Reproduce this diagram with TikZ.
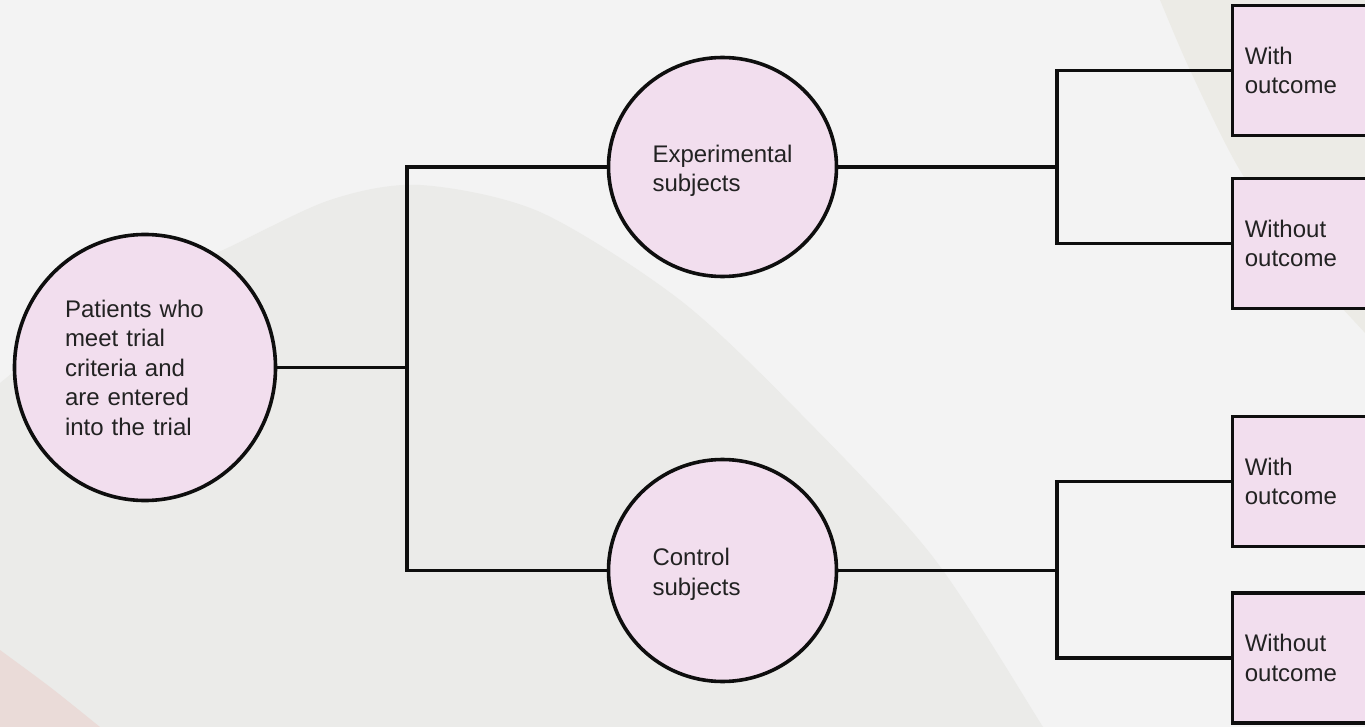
\documentclass[tikz,border=0pt]{standalone}
\usepackage{fontspec}
\setmainfont{Liberation Sans}
\usetikzlibrary{shapes.geometric}
\definecolor{bgbase}{HTML}{F3F3F3}
\definecolor{bgblob}{HTML}{EBEBE9}
\definecolor{bgbeige}{HTML}{ECEBE6}
\definecolor{bgpink}{HTML}{EADBD8}
\definecolor{nodefill}{HTML}{F2DEEE}
\definecolor{ink}{HTML}{0E0E0E}
\definecolor{textink}{HTML}{222222}
\begin{document}
\begin{tikzpicture}[x=1pt,y=-1pt,
  txt/.style={font=\fontsize{24}{29.5}\selectfont, text=textink},
  bubble/.style={ellipse, draw=ink, line width=3.6pt, fill=nodefill, inner sep=0pt, align=left, txt},
  outbox/.style={rectangle, draw=ink, line width=3.6pt, fill=nodefill, minimum height=130pt, text width=130pt, inner xsep=12.5pt, align=left, anchor=west, txt},
  link/.style={draw=ink, line width=3.6pt}]
\clip (0,0) rectangle (1365,727);
\fill[bgbase] (0,0) rectangle (1365,727);
\fill[bgblob] plot[smooth] coordinates {(-10,392) (0,383) (100,305) (223,250) (330,200) (420,185) (540,212) (680,300) (800,413) (933,557) (1043,727) (1050,740)} -- (-10,740) -- cycle;
\fill[bgpink] plot[smooth] coordinates {(-5,646) (0,650) (50,687) (100,727) (106,732)} -- (-5,732) -- cycle;
\fill[bgbeige] plot[smooth] coordinates {(1158,-5) (1160,0) (1190,70) (1238,167) (1300,260) (1365,333) (1370,340)} -- (1370,-5) -- cycle;

\node[bubble, minimum width=261pt, minimum height=266pt, text width=160pt] (A) at (145,367.5) {Patients who\\meet trial\\criteria and\\are entered\\into the trial};
\node[bubble, minimum width=228pt, minimum height=219pt, text width=140pt, text height=25pt] (B) at (722.5,167) {Experimental\\subjects};
\node[bubble, minimum width=228pt, minimum height=222pt, text width=140pt, text height=25pt] (C) at (722.5,570.5) {Control\\subjects};

\node[outbox] (D) at (1230.5,70.5) {With\\outcome};
\node[outbox] (E) at (1230.5,243.5) {Without\\outcome};
\node[outbox] (F) at (1230.5,481.5) {With\\outcome};
\node[outbox] (G) at (1230.5,658) {Without\\outcome};

\coordinate (t) at (407,0);
\coordinate (k) at (1057,0);

\draw[link] (A.east) -- (A.east -| t);
\draw[link] (B.west) -- (B.west -| t) -- (C.west -| t) -- (C.west);
\draw[link] (B.east) -- (B.east -| k);
\draw[link] (D.west) -- (D.west -| k) -- (E.west -| k) -- (E.west);
\draw[link] (C.east) -- (C.east -| k);
\draw[link] (F.west) -- (F.west -| k) -- (G.west -| k) -- (G.west);
\end{tikzpicture}
\end{document}
